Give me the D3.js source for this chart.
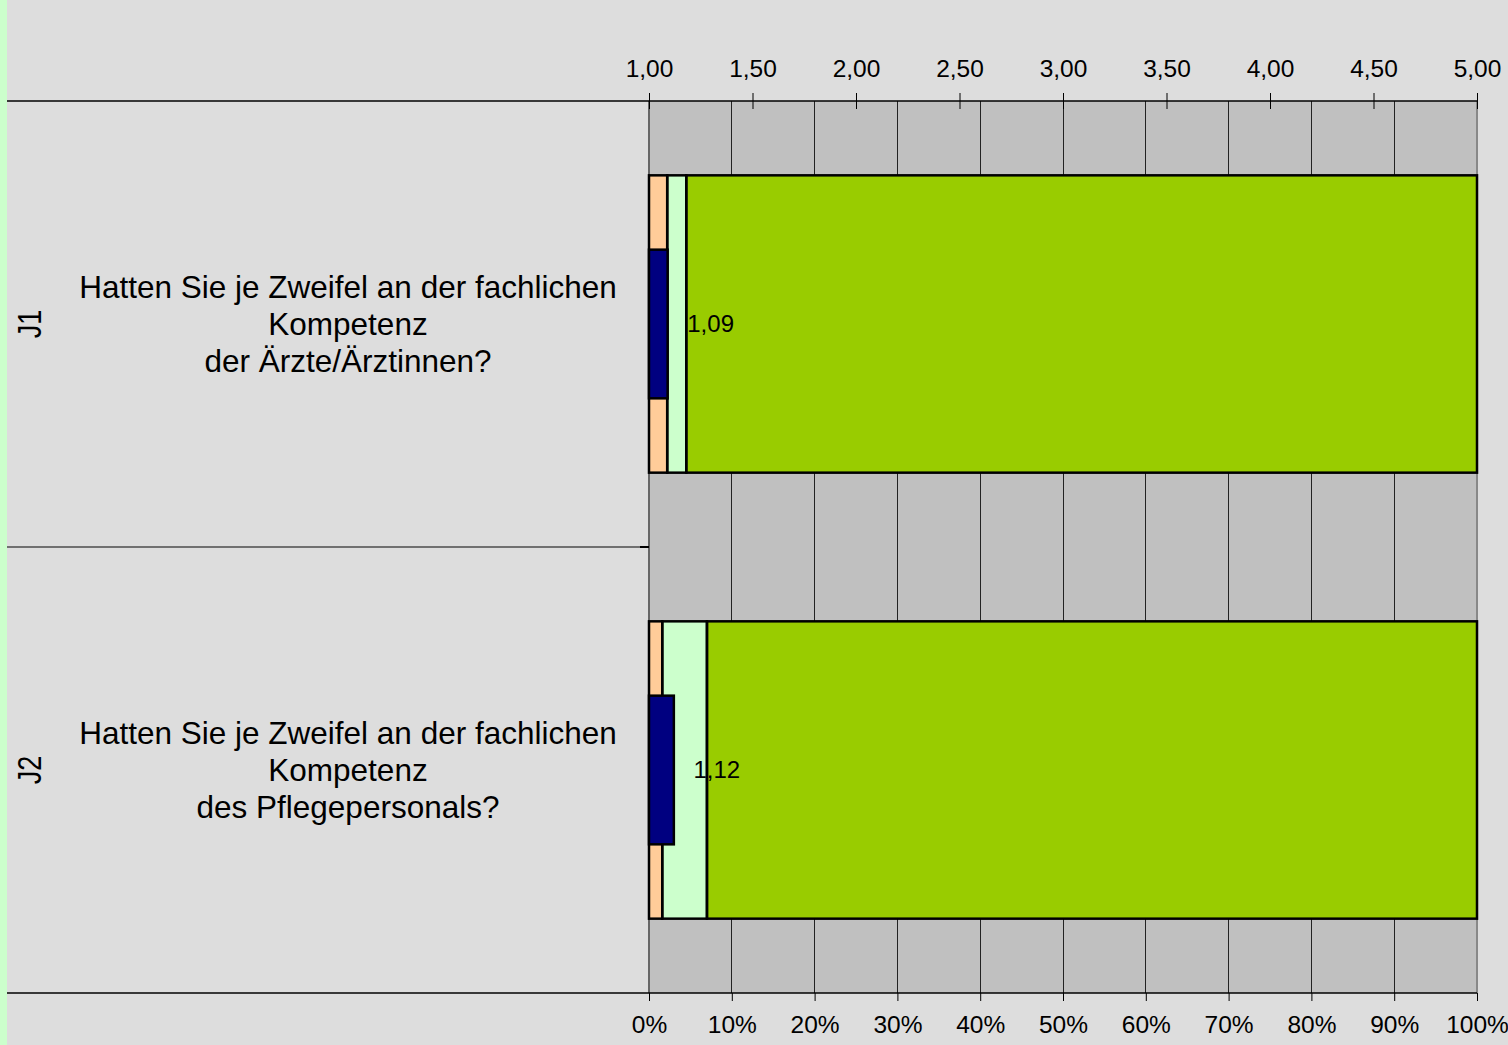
<!DOCTYPE html>
<html><head><meta charset="utf-8">
<script src="https://cdn.jsdelivr.net/npm/d3@7"></script>
<style>html,body{margin:0;padding:0;background:#dddddd;}svg{display:block;}</style>
</head><body>
<script>
const categories = ["J1", "J2"];
const questions = [
  ["Hatten Sie je Zweifel an der fachlichen", "Kompetenz", "der Ärzte/Ärztinnen?"],
  ["Hatten Sie je Zweifel an der fachlichen", "Kompetenz", "des Pflegepersonals?"]
];
const s1Values = [2.2, 1.6];
const s2Values = [2.3, 5.4];
const s3Values = [95.5, 93.0];
const meanValues = [1.09, 1.12];
const meanLabels = ["1,09", "1,12"];
const topTicks = [1, 1.5, 2, 2.5, 3, 3.5, 4, 4.5, 5];
const bottomTicks = [0, 10, 20, 30, 40, 50, 60, 70, 80, 90, 100];
const colors = ["#ffcc99", "#ccffcc", "#99cc00"];

const FONT = "Liberation Sans, Arial, sans-serif";
const W = 1508, H = 1045;
const L = 649, R = 1477, T = 101, B = 993;
const svg = d3.select("body").append("svg").attr("width", W).attr("height", H);
svg.append("rect").attr("width", W).attr("height", H).attr("fill", "#dddddd");
svg.append("rect").attr("x", 0).attr("y", 0).attr("width", 7).attr("height", H).attr("fill", "#ccffcc");

const xPct = d3.scaleLinear().domain([0, 100]).range([L, R]);
const xMean = d3.scaleLinear().domain([1, 5]).range([L, R]);
const y = d3.scaleBand().domain(categories).range([T, B]).padding(0);
const bw = y.bandwidth();

// plot bg
svg.append("rect").attr("x", L).attr("y", T).attr("width", R - L).attr("height", B - T).attr("fill", "#c0c0c0");
// gridlines
svg.append("g").selectAll("line").data(bottomTicks.slice(1, -1)).join("line")
  .attr("x1", d => xPct(d)).attr("x2", d => xPct(d)).attr("y1", T).attr("y2", B)
  .attr("stroke", "#222").attr("stroke-width", 1).attr("shape-rendering", "crispEdges");
svg.append("line").attr("x1", L).attr("x2", L).attr("y1", T).attr("y2", B).attr("stroke", "#666").attr("stroke-width", 2);
svg.append("line").attr("x1", R).attr("x2", R).attr("y1", T).attr("y2", B).attr("stroke", "#888").attr("stroke-width", 2);

// stacked data
const rows = categories.map((c, i) => ({cat: c, vals: [s1Values[i], s2Values[i], s3Values[i]], mean: meanValues[i], label: meanLabels[i]}));
const segs = [];
rows.forEach(r => { let acc = 0; r.vals.forEach((v, k) => { segs.push({cat: r.cat, x0: acc, x1: acc + v, k}); acc += v; }); });

const barH = bw * 2 / 3, meanH = bw / 3;
const g = svg.append("g");
g.selectAll("rect.fill").data(segs).join("rect")
  .attr("x", d => xPct(d.x0)).attr("width", d => xPct(d.x1) - xPct(d.x0))
  .attr("y", d => y(d.cat) + (bw - barH) / 2).attr("height", barH)
  .attr("fill", d => colors[d.k]);
g.selectAll("text.ml").data(rows).join("text")
  .attr("x", d => xMean(d.mean) + 43).attr("y", d => y(d.cat) + bw / 2)
  .attr("dy", "0.35em").attr("text-anchor", "middle")
  .attr("font-family", FONT).attr("font-size", 24).attr("fill", "#000")
  .text(d => d.label);
g.selectAll("rect.outline").data(segs).join("rect")
  .attr("x", d => xPct(d.x0)).attr("width", d => xPct(d.x1) - xPct(d.x0))
  .attr("y", d => y(d.cat) + (bw - barH) / 2).attr("height", barH)
  .attr("fill", "none").attr("stroke", "#000").attr("stroke-width", 2.5);
g.selectAll("rect.mean").data(rows).join("rect")
  .attr("x", xMean(1)).attr("width", d => xMean(d.mean) - xMean(1))
  .attr("y", d => y(d.cat) + (bw - meanH) / 2).attr("height", meanH)
  .attr("fill", "#000080").attr("stroke", "#000").attr("stroke-width", 2.5);

// separators
svg.append("line").attr("x1", 7).attr("x2", R).attr("y1", T).attr("y2", T).attr("stroke", "#000").attr("stroke-width", 1.5);
svg.append("line").attr("x1", 7).attr("x2", L).attr("y1", y("J2")).attr("y2", y("J2")).attr("stroke", "#707070").attr("stroke-width", 2);
svg.append("line").attr("x1", L - 9).attr("x2", L).attr("y1", y("J2")).attr("y2", y("J2")).attr("stroke", "#000").attr("stroke-width", 2);
svg.append("line").attr("x1", 7).attr("x2", R).attr("y1", B).attr("y2", B).attr("stroke", "#000").attr("stroke-width", 1.5);

// top axis
const topAxis = d3.axisTop(xMean).tickValues(topTicks).tickSize(8).tickPadding(16)
  .tickFormat(d => d3.format(".2f")(d).replace(".", ","));
const ta = svg.append("g").attr("transform", `translate(0,${T})`).call(topAxis);
ta.select(".domain").remove();
ta.selectAll(".tick line").attr("y2", -8).attr("y1", 8).attr("stroke", "#000");
ta.selectAll("text").attr("font-family", FONT).attr("font-size", 24.5).attr("fill", "#000");

// bottom axis
const botAxis = d3.axisBottom(xPct).tickValues(bottomTicks).tickSize(8).tickPadding(15)
  .tickFormat(d => d + "%");
const ba = svg.append("g").attr("transform", `translate(0,${B})`).call(botAxis);
ba.select(".domain").remove();
ba.selectAll(".tick line").attr("stroke", "#000");
ba.selectAll("text").attr("font-family", FONT).attr("font-size", 24.5).attr("fill", "#000");

// category labels
const cl = svg.append("g");
rows.forEach((r, i) => {
  const cy = y(r.cat) + bw / 2;
  const t = cl.append("text").attr("text-anchor", "middle")
    .attr("font-family", FONT).attr("font-size", 31.5).attr("fill", "#000");
  questions[i].forEach((line, j) => {
    t.append("tspan").attr("x", 348).attr("y", cy - 37 + j * 37).attr("dy", "0.35em").text(line);
  });
  cl.append("text").attr("transform", `translate(29,${cy}) rotate(-90) scale(1,1.25)`).attr("text-anchor", "middle")
    .attr("dy", "0.35em").attr("font-family", FONT).attr("font-size", 27).attr("fill", "#000")
    .text(r.cat);
});
</script>
</body></html>
